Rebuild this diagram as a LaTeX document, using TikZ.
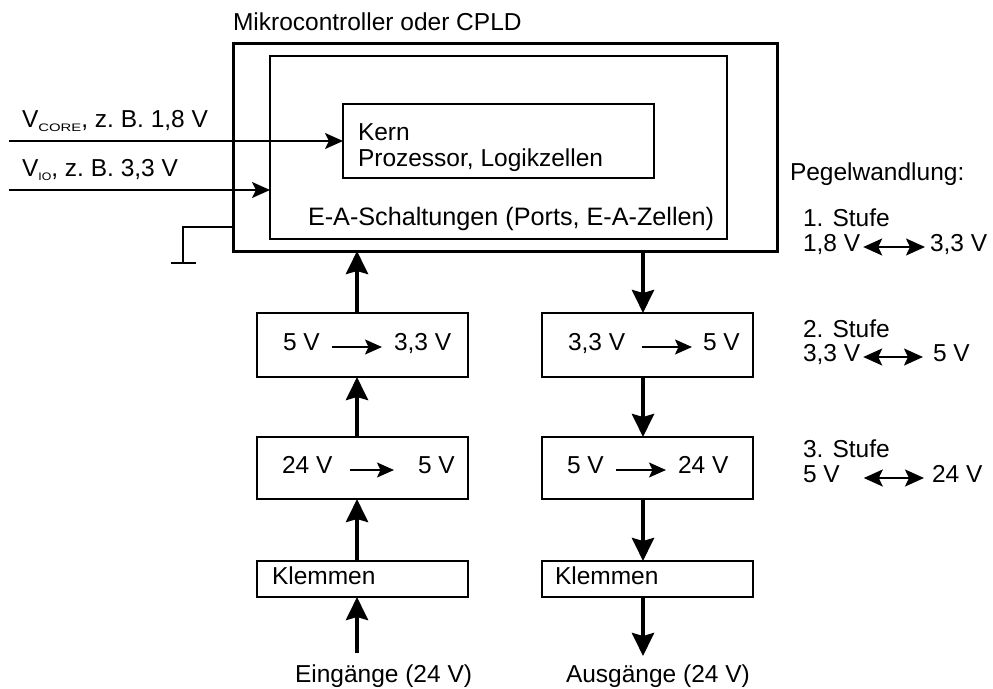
\documentclass[tikz,border=0pt]{standalone}
\usepackage{fontspec}
\setmainfont{Liberation Sans}
\usetikzlibrary{arrows.meta}
\newcommand{\subsc}[2]{\raisebox{-4.5pt}{\resizebox{#1}{7.6pt}{#2}}}
\begin{document}
\begin{tikzpicture}[x=1pt,y=-1pt,
  font=\fontsize{24.5}{28}\selectfont,
  txt/.style={anchor=base west, inner sep=0pt, outer sep=0pt},
  box/.style={draw, line width=2.4pt, inner sep=0pt, outer sep=0pt, minimum width=211pt},
  bigarrow/.style={line width=4pt, -{Stealth[length=23pt,width=22pt,inset=3pt]}},
  sigarrow/.style={line width=2pt, -{Stealth[length=18pt,width=16pt,inset=4pt]}},
  convarrow/.style={line width=1.8pt, -{Stealth[length=17pt,width=15pt,inset=3.5pt]}},
  dblarrow/.style={line width=2pt, {Stealth[length=19pt,width=17pt,inset=4pt]}-{Stealth[length=19pt,width=17pt,inset=4pt]}}
]
\useasboundingbox (0,0) rectangle (993,688);
\fill[white] (0,0) rectangle (993,688);

% main blocks
\node[txt] (title) at (233,30) {Mikrocontroller oder CPLD};
\node[draw, line width=3pt, inner sep=0pt, outer sep=0pt, minimum width=544pt, minimum height=208pt] (outer) at (505,147) {};
\node[draw, line width=1.7pt, inner sep=0pt, outer sep=0pt, minimum width=457pt, minimum height=183pt] (inner) at (498.5,147.5) {};
\node[draw, line width=1.7pt, inner sep=0pt, outer sep=0pt, minimum width=311pt, minimum height=74pt] (kern) at (498.5,141) {};
\node[txt] (kerntxt) at (358,140) {Kern};
\node[txt] (proztxt) at (358,166) {Prozessor, Logikzellen};
\node[txt, font=\fontsize{25.2}{28}\selectfont] (eatxt) at (308,225) {E-A-Schaltungen (Ports, E-A-Zellen)};

% supply inputs
\node[txt] (vcore) at (22,127) {V\subsc{43pt}{CORE}, z.\ B. 1,8 V};
\node[txt] (vio) at (22,176) {V\subsc{13pt}{IO}, z.\ B. 3,3 V};
\coordinate (vcstart) at (9,141);
\coordinate (viostart) at (9,190);
\draw[sigarrow] (vcstart) -- (kern.west |- vcstart);
\draw[sigarrow] (viostart) -- (inner.west |- viostart);

% ground
\coordinate (gnd) at (183,263);
\draw[line width=1.7pt] ([yshift=24pt]outer.south west) -| (gnd);
\draw[line width=2.4pt] ([xshift=-12pt]gnd) -- ([xshift=13pt]gnd);

% left column (inputs)
\node[box, minimum height=64pt] (la) at (362.5,345) {};
\node[box, minimum height=62pt] (lb) at (362.5,468) {};
\node[box, minimum height=36pt] (lc) at (362.5,579) {};
\node[txt] (la1) at (283,350) {5 V};
\node[txt] (la2) at (394,350) {3,3 V};
\draw[convarrow] ([xshift=12pt,yshift=3pt]la1.base east) -- ([xshift=-12pt,yshift=3pt]la2.base west);
\node[txt] (lb1) at (282,473) {24 V};
\node[txt] (lb2) at (418,473) {5 V};
\draw[convarrow] ([xshift=18pt,yshift=3pt]lb1.base east) -- ([xshift=-24pt,yshift=3pt]lb2.base west);
\node[txt] (lc1) at (272,584) {Klemmen};
\node[txt] (ein) at (295,682) {Eingänge (24 V)};

\coordinate (colL) at (357,0);
\coordinate (einTop) at (357,653);
\draw[bigarrow] (einTop) -- (colL |- lc.south);
\draw[bigarrow] (colL |- lc.north) -- (colL |- lb.south);
\draw[bigarrow] (colL |- lb.north) -- (colL |- la.south);
\draw[bigarrow] (colL |- la.north) -- (colL |- outer.south);

% right column (outputs)
\node[box, minimum height=64pt] (ra) at (647.5,345) {};
\node[box, minimum height=62pt] (rb) at (647.5,468) {};
\node[box, minimum height=36pt] (rc) at (647.5,579) {};
\node[txt] (ra1) at (568,350) {3,3 V};
\node[txt] (ra2) at (703,350) {5 V};
\draw[convarrow] ([xshift=17pt,yshift=3pt]ra1.base east) -- ([xshift=-11pt,yshift=3pt]ra2.base west);
\node[txt] (rb1) at (567,473) {5 V};
\node[txt] (rb2) at (678,473) {24 V};
\draw[convarrow] ([xshift=12pt,yshift=3pt]rb1.base east) -- ([xshift=-12pt,yshift=3pt]rb2.base west);
\node[txt] (rc1) at (555,584) {Klemmen};
\node[txt] (aus) at (566,682) {Ausgänge (24 V)};

\coordinate (colR) at (643,0);
\coordinate (ausTop) at (643,656);
\draw[bigarrow] (colR |- outer.south) -- (colR |- ra.north);
\draw[bigarrow] (colR |- ra.south) -- (colR |- rb.north);
\draw[bigarrow] (colR |- rb.south) -- (colR |- rc.north);
\draw[bigarrow] (colR |- rc.south) -- (ausTop);

% level conversion legend
\node[txt] (pegel) at (790,180) {Pegelwandlung:};
\node[txt] (s1) at (803,226) {1. Stufe};
\node[txt] (s1a) at (803,251) {1,8 V};
\node[txt] (s1b) at (930,251) {3,3 V};
\draw[dblarrow] ([xshift=3pt,yshift=4pt]s1a.base east) -- ([xshift=-5pt,yshift=4pt]s1b.base west);
\node[txt] (s2) at (803,337) {2. Stufe};
\node[txt] (s2a) at (803,361) {3,3 V};
\node[txt] (s2b) at (933,361) {5 V};
\draw[dblarrow] ([xshift=3pt,yshift=4pt]s2a.base east) -- ([xshift=-10pt,yshift=4pt]s2b.base west);
\node[txt] (s3) at (803,457) {3. Stufe};
\node[txt] (s3a) at (803,482) {5 V};
\node[txt] (s3b) at (932,482) {24 V};
\draw[dblarrow] ([xshift=24pt,yshift=4pt]s3a.base east) -- ([xshift=-8pt,yshift=4pt]s3b.base west);
\end{tikzpicture}
\end{document}
